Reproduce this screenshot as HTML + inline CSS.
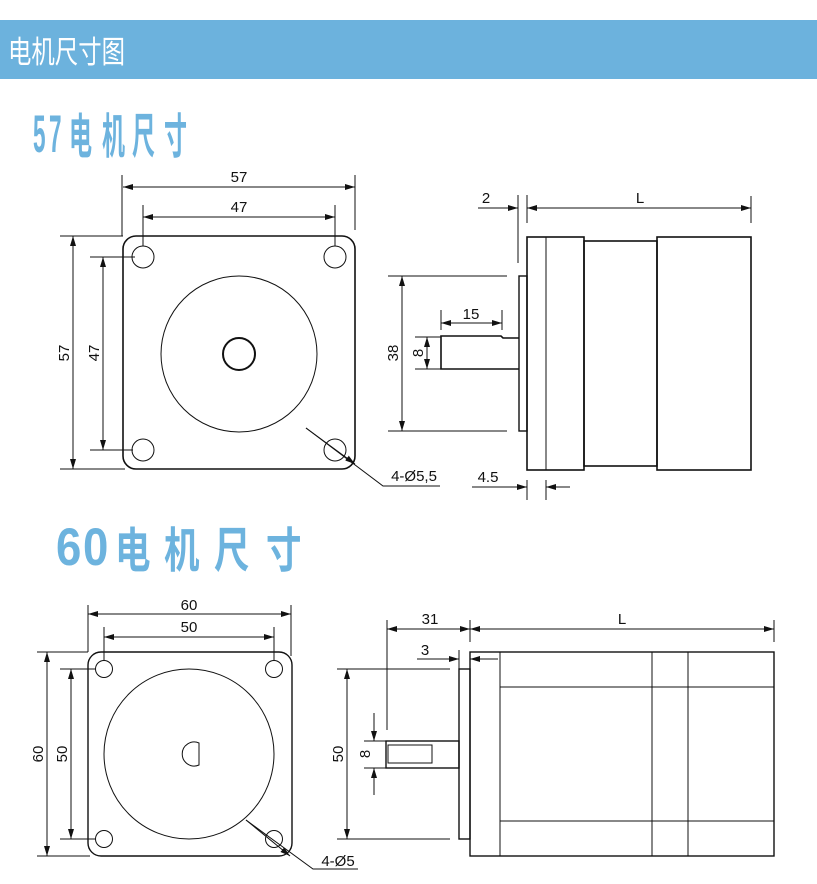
<!DOCTYPE html>
<html><head><meta charset="utf-8"><style>
html,body{margin:0;padding:0;background:#fff;}
svg{display:block;}
</style></head><body>
<svg width="817" height="884" viewBox="0 0 817 884" xmlns="http://www.w3.org/2000/svg">
<defs>
<marker id="a" viewBox="0 0 10 6" refX="10" refY="3" markerWidth="10" markerHeight="6" markerUnits="userSpaceOnUse" orient="auto-start-reverse"><path d="M0,0 L10,3 L0,6 z" fill="#111"/></marker>
</defs>
<rect x="0" y="20" width="817" height="59" fill="#6cb2dd"/>
<text x="8" y="63" font-family="'Liberation Sans','Noto Sans CJK SC',sans-serif" font-size="31" fill="#fff" textLength="117" lengthAdjust="spacingAndGlyphs">电机尺寸图</text>
<g font-family="'Liberation Sans','Noto Sans CJK SC',sans-serif" font-weight="bold" fill="#6db3de" font-size="48">
<text transform="translate(33,152) scale(0.47,1.1)">5</text>
<text transform="translate(49,152) scale(0.47,1.1)">7</text>
<text transform="translate(69,153) scale(0.48,1)">电</text>
<text transform="translate(102,153) scale(0.48,1)">机</text>
<text transform="translate(132,153) scale(0.48,1)">尺</text>
<text transform="translate(164,153) scale(0.48,1)">寸</text>
<text transform="translate(56,565) scale(0.95,1.1)">6</text>
<text transform="translate(83,565) scale(0.95,1.1)">0</text>
<text transform="translate(115,567) scale(0.74,1)">电</text>
<text transform="translate(164,567) scale(0.74,1)">机</text>
<text transform="translate(214,567) scale(0.74,1)">尺</text>
<text transform="translate(266,567) scale(0.74,1)">寸</text>
</g>
<g stroke="#111" fill="none" stroke-width="1">
<rect x="123" y="236" width="232" height="233" rx="13" stroke-width="1.6"/>
<circle cx="143" cy="257" r="11"/><circle cx="335" cy="257" r="11"/>
<circle cx="143" cy="450" r="11"/><circle cx="335" cy="450" r="11"/>
<circle cx="239" cy="354" r="78"/>
<circle cx="239" cy="354" r="16" stroke-width="2"/>
<line x1="122" y1="175" x2="122" y2="236"/><line x1="355" y1="175" x2="355" y2="230"/>
<line x1="123" y1="187" x2="355" y2="187" marker-start="url(#a)" marker-end="url(#a)"/>
<line x1="143" y1="205" x2="143" y2="246"/><line x1="335" y1="205" x2="335" y2="246"/>
<line x1="143" y1="217" x2="335" y2="217" marker-start="url(#a)" marker-end="url(#a)"/>
<line x1="60" y1="236" x2="123" y2="236"/><line x1="60" y1="469" x2="125" y2="469"/>
<line x1="73" y1="236" x2="73" y2="469" marker-start="url(#a)" marker-end="url(#a)"/>
<line x1="90" y1="257" x2="135" y2="257"/><line x1="90" y1="450" x2="133" y2="450"/>
<line x1="103" y1="257" x2="103" y2="450" marker-start="url(#a)" marker-end="url(#a)"/>
<polyline points="306,428 383,486 440,486"/>
<line x1="306" y1="428" x2="355" y2="464" marker-end="url(#a)"/>
<line x1="518" y1="195" x2="518" y2="263"/><line x1="527" y1="195" x2="527" y2="223"/>
<line x1="751" y1="196" x2="751" y2="223"/>
<line x1="478" y1="208" x2="518" y2="208" marker-end="url(#a)"/>
<line x1="527" y1="208" x2="751" y2="208" marker-start="url(#a)" marker-end="url(#a)"/>
<rect x="527" y="237" width="57" height="233" stroke-width="1.6"/>
<line x1="546" y1="237" x2="546" y2="470"/>
<rect x="584" y="241" width="73" height="225" stroke-width="1.6"/>
<rect x="657" y="237" width="94" height="233" stroke-width="1.6"/>
<rect x="519" y="276" width="8" height="155" stroke-width="1.4"/>
<polyline points="519,338 503,338 501,336 441,336 441,369 519,369" stroke-width="1.6"/>
<line x1="388" y1="276" x2="507" y2="276"/><line x1="388" y1="431" x2="507" y2="431"/>
<line x1="402" y1="276" x2="402" y2="431" marker-start="url(#a)" marker-end="url(#a)"/>
<line x1="441" y1="310" x2="441" y2="330"/><line x1="502" y1="310" x2="502" y2="330"/>
<line x1="441" y1="323" x2="502" y2="323" marker-start="url(#a)" marker-end="url(#a)"/>
<line x1="415" y1="337" x2="441" y2="337"/><line x1="415" y1="369" x2="441" y2="369"/>
<line x1="427" y1="337" x2="427" y2="369" marker-start="url(#a)" marker-end="url(#a)"/>
<line x1="527" y1="480" x2="527" y2="500"/><line x1="546" y1="480" x2="546" y2="500"/>
<line x1="472" y1="487" x2="527" y2="487" marker-end="url(#a)"/>
<line x1="570" y1="487" x2="546" y2="487" marker-end="url(#a)"/>
<rect x="88" y="652" width="204" height="204" rx="13" stroke-width="1.4"/>
<circle cx="104" cy="669" r="8.5"/><circle cx="274" cy="669" r="8.5"/>
<circle cx="104" cy="839" r="8.5"/><circle cx="274" cy="839" r="8.5"/>
<circle cx="189" cy="754" r="85"/>
<path d="M199,743 A12,12 0 1 0 199,765 Z"/>
<line x1="88" y1="605" x2="88" y2="652"/><line x1="291" y1="605" x2="291" y2="656"/>
<line x1="88" y1="614" x2="291" y2="614" marker-start="url(#a)" marker-end="url(#a)"/>
<line x1="104" y1="627" x2="104" y2="660"/><line x1="274" y1="627" x2="274" y2="660"/>
<line x1="104" y1="637" x2="274" y2="637" marker-start="url(#a)" marker-end="url(#a)"/>
<line x1="37" y1="652" x2="88" y2="652"/><line x1="37" y1="856" x2="90" y2="856"/>
<line x1="47" y1="652" x2="47" y2="856" marker-start="url(#a)" marker-end="url(#a)"/>
<line x1="60" y1="669" x2="96" y2="669"/><line x1="60" y1="839" x2="96" y2="839"/>
<line x1="71" y1="669" x2="71" y2="839" marker-start="url(#a)" marker-end="url(#a)"/>
<polyline points="246,820 313,869 358,869"/>
<line x1="246" y1="820" x2="290" y2="856" marker-end="url(#a)"/>
<line x1="387" y1="620" x2="387" y2="730"/><line x1="470" y1="620" x2="470" y2="642"/>
<line x1="774" y1="620" x2="774" y2="642"/>
<line x1="387" y1="629" x2="470" y2="629" marker-start="url(#a)" marker-end="url(#a)"/>
<line x1="470" y1="629" x2="774" y2="629" marker-start="url(#a)" marker-end="url(#a)"/>
<line x1="459" y1="650" x2="459" y2="669"/>
<line x1="417" y1="659" x2="459" y2="659" marker-end="url(#a)"/>
<line x1="498" y1="659" x2="470" y2="659" marker-end="url(#a)"/>
<rect x="470" y="652" width="304" height="204" stroke-width="1.4"/>
<line x1="500" y1="652" x2="500" y2="856"/>
<line x1="652" y1="652" x2="652" y2="856"/><line x1="688" y1="652" x2="688" y2="856"/>
<line x1="500" y1="687" x2="774" y2="687"/><line x1="500" y1="821" x2="774" y2="821"/>
<rect x="459" y="669" width="11" height="170" stroke-width="1.4"/>
<rect x="386" y="741" width="73" height="27" stroke-width="1.4"/>
<rect x="388" y="745" width="44" height="18"/>
<line x1="337" y1="669" x2="450" y2="669"/><line x1="337" y1="839" x2="450" y2="839"/>
<line x1="347" y1="669" x2="347" y2="839" marker-start="url(#a)" marker-end="url(#a)"/>
<line x1="364" y1="741" x2="386" y2="741"/><line x1="364" y1="768" x2="386" y2="768"/>
<line x1="374" y1="713" x2="374" y2="741" marker-end="url(#a)"/>
<line x1="374" y1="795" x2="374" y2="768" marker-end="url(#a)"/>
</g>
<g font-family="'Liberation Sans',sans-serif" font-size="15" fill="#111" text-anchor="middle">
<text x="239" y="182">57</text><text x="239" y="212">47</text>
<text transform="translate(69,353) rotate(-90)">57</text>
<text transform="translate(99,353) rotate(-90)">47</text>
<text x="414" y="481">4-Ø5,5</text>
<text x="486" y="203">2</text><text x="640" y="203">L</text>
<text x="471" y="319">15</text>
<text transform="translate(398,353) rotate(-90)">38</text>
<text transform="translate(423,353) rotate(-90)">8</text>
<text x="488" y="482">4.5</text>
<text x="189" y="610">60</text><text x="189" y="632">50</text>
<text transform="translate(43,754) rotate(-90)">60</text>
<text transform="translate(67,754) rotate(-90)">50</text>
<text x="338" y="866">4-Ø5</text>
<text x="430" y="624">31</text><text x="425" y="655">3</text><text x="622" y="624">L</text>
<text transform="translate(343,754) rotate(-90)">50</text>
<text transform="translate(370,754) rotate(-90)">8</text>
</g>
</svg>
</body></html>
